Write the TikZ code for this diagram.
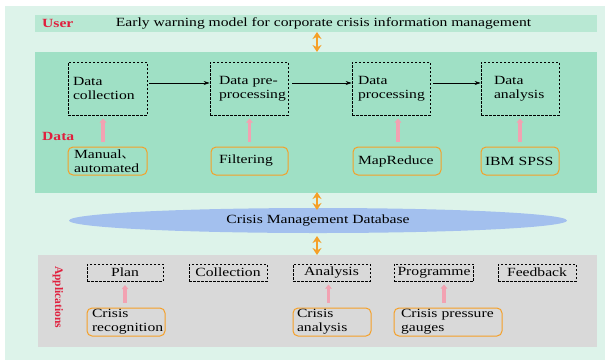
\documentclass[tikz,border=0pt]{standalone}
\usepackage{fontspec}
\setmainfont{Liberation Serif}[FakeStretch=1.25]
\newfontfamily\narrowserif{Liberation Serif}
\newfontfamily\cjk{Noto Sans CJK SC}
\usetikzlibrary{arrows.meta,shapes.geometric}
\definecolor{bgmint}{HTML}{DDF3EA}
\definecolor{userbar}{HTML}{B8E8D3}
\definecolor{datapanel}{HTML}{9FE0C5}
\definecolor{dbblue}{HTML}{A3C0EE}
\definecolor{apppanel}{HTML}{D9D9D9}
\definecolor{orangeA}{HTML}{F5A028}
\definecolor{pinkA}{HTML}{F2A2B2}
\definecolor{crimson}{HTML}{E0203E}
\tikzset{
  panel/.style={inner sep=0pt, outer sep=0pt},
  dashbox/.style={draw=black, dash pattern=on 2.5pt off 1.5pt, line width=0.7pt, inner ysep=0pt, align=left},
  toolbox/.style={draw=orangeA, line width=1pt, rounded corners=5pt, inner ysep=0pt, align=left, minimum height=28pt},
  pinkarrow/.style={draw=pinkA, line width=3.5pt, -{Triangle[length=4pt,width=6.5pt]}},
  flowarrow/.style={draw=black, line width=0.6pt, -{Stealth[length=6pt,width=4pt]}},
  dblarrow/.style={draw=orangeA, line width=1.2pt, {Stealth[length=7pt,width=9pt]}-{Stealth[length=7pt,width=9pt]}},
  redlabel/.style={text=crimson, font=\fontsize{12.5}{14}\selectfont\bfseries},
}
\begin{document}
\begin{tikzpicture}[x=1pt,y=-1pt, font=\fontsize{12.5}{14}\selectfont]
\useasboundingbox (0,0) rectangle (605,360);
\fill[white] (0,0) rectangle (605,360);
\fill[bgmint] (5,6) rectangle (605,360);

% panels
\node[panel, fill=userbar, minimum width=562pt, minimum height=17pt] (user) at (316,23.5) {};
\node[panel, fill=datapanel, minimum width=562pt, minimum height=141pt] (data) at (316,122.5) {};
\node[panel, fill=apppanel, minimum width=559pt, minimum height=92pt] (app) at (317.5,301) {};
\node[ellipse, fill=dbblue, minimum width=498pt, minimum height=25pt, inner sep=0pt] (db) at (318,220.5) {Crisis Management Database};

% user bar text
\node[redlabel, anchor=west, inner sep=0pt] (userlbl) at (42,23.5) {User};
\node (title) at (323.5,23.5) {Early warning model for corporate crisis information management};

% double arrows
\coordinate (a1t) at (317,32);
\coordinate (a1b) at (317,52);
\draw[dblarrow] (a1t) -- (a1b);
\coordinate (a2t) at (317,192);
\coordinate (a2b) at (317,210);
\draw[dblarrow] (a2t) -- (a2b);
\coordinate (a3t) at (317,236);
\coordinate (a3b) at (317,255);
\draw[dblarrow] (a3t) -- (a3b);

% data stages
\node[dashbox, minimum height=53pt, inner xsep=5pt, text width=69pt] (dc) at (107.5,88.5) {Data\\collection};
\node[dashbox, minimum height=53pt, inner xsep=9pt, text width=60pt] (dp) at (249,88.5) {Data pre-\\processing};
\node[dashbox, minimum height=53pt, inner xsep=6pt, text width=66pt] (dpr) at (391,88.5) {Data\\processing};
\node[dashbox, minimum height=53pt, inner xsep=13pt, text width=52pt] (da) at (520,88.5) {Data\\analysis};

\draw[flowarrow] (dc.east |- 0,83) ++(2,0) coordinate (f1s) -- (dp.west |- 0,83);
\draw[flowarrow] (dp.east |- 0,83) ++(4,0) coordinate (f2s) -- (dpr.west |- 0,83);
\draw[flowarrow] (dpr.east |- 0,83) ++(3,0) coordinate (f3s) -- (da.west |- 0,83);

\node[redlabel, anchor=west, inner sep=0pt] (datalbl) at (42,136) {Data};

% data tools
\node[toolbox, inner xsep=6pt, text width=67pt] (t1) at (107.5,161) {Manual{\cjk 、}\\automated};
\node[toolbox, inner xsep=8pt, text width=61pt] (t2) at (249.5,161) {Filtering};
\node[toolbox, inner xsep=5pt, text width=78pt] (t3) at (397,161) {MapReduce};
\node[toolbox, inner xsep=4pt, text width=70pt] (t4) at (520,161) {IBM SPSS};

\draw[pinkarrow] (t1.north -| 103,0) ++(0,-5) -- ++(0,-23) coordinate (p1e);
\draw[pinkarrow] (t2.north) ++(0,-5) -- ++(0,-23);
\draw[pinkarrow] (t3.north) ++(1,-5) -- ++(0,-23);
\draw[pinkarrow] (t4.north) ++(0,-5) -- ++(0,-23);

% applications
\node[text=crimson, font=\narrowserif\fontsize{11.5}{13}\selectfont\bfseries, rotate=-90] (applbl) at (58,297) {Applications};

\node[dashbox, minimum width=76pt, minimum height=17pt, align=center] (plan) at (125,272.5) {Plan};
\node[dashbox, minimum width=78pt, minimum height=17pt, align=center] (coll) at (228,272.5) {Collection};
\node[dashbox, minimum width=77pt, minimum height=17pt, align=center] (anal) at (331.5,272.5) {Analysis};
\node[dashbox, minimum width=78pt, minimum height=17pt, align=center] (prog) at (434,272.5) {Programme};
\node[dashbox, minimum width=78pt, minimum height=17pt, align=center] (feed) at (537,272.5) {Feedback};

\node[toolbox, inner xsep=5pt, text width=68pt] (r1) at (126,322) {Crisis\\recognition};
\node[toolbox, inner xsep=4pt, text width=70pt] (r2) at (332,322) {Crisis\\analysis};
\node[toolbox, inner xsep=7pt, text width=94pt] (r3) at (448,322) {Crisis pressure\\gauges};

\draw[pinkarrow] (r1.north -| plan.south) ++(0,-5) -- (plan.south |- 0,285);
\draw[pinkarrow] (r2.north -| anal.south) ++(-3,-5) -- ++(0,-18);
\draw[pinkarrow] (r3.north -| prog.south) ++(10,-5) -- ++(0,-18);
\end{tikzpicture}
\end{document}
